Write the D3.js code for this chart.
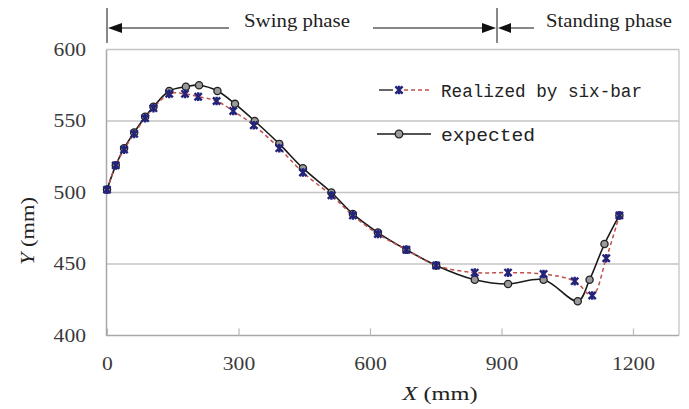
<!DOCTYPE html>
<html>
<head>
<meta charset="utf-8">
<script src="https://cdn.jsdelivr.net/npm/d3@7/dist/d3.min.js"></script>
<style>
  html, body { margin: 0; padding: 0; background: #fff; }
  svg { display: block; }
</style>
</head>
<body>
<svg id="chart" width="689" height="409"></svg>
<script>
// ---- data ----
const realizedX = [0, 20, 39, 62, 87, 106, 142, 178, 208, 250, 288, 335, 393, 447, 512, 561, 618, 683, 751, 839, 915, 996, 1067, 1107, 1139, 1169];
const realizedY = [502, 519, 530, 541, 552, 559, 569, 569, 567, 564, 557, 547, 531, 514, 498, 484, 471, 460, 449, 444, 444, 443, 438, 428, 454, 484];
const expectedX = [0, 20, 39, 62, 87, 106, 142, 180, 210, 252, 292, 337, 393, 447, 512, 561, 618, 683, 751, 839, 915, 996, 1074, 1101, 1135, 1169];
const expectedY = [502, 519, 531, 542, 553, 560, 571, 574, 575, 571, 562, 550, 534, 517, 500, 485, 472, 460, 449, 439, 436, 439, 424, 439, 464, 484];
const xTicks = [0, 300, 600, 900, 1200];
const yTicks = [400, 450, 500, 550, 600];
const seriesNames = ["Realized by six-bar", "expected"];
const phaseLabels = ["Swing phase", "Standing phase"];

const svg = d3.select("#chart");
const x = d3.scaleLinear().domain([0, 1305]).range([107, 679]);
const y = d3.scaleLinear().domain([400, 600]).range([335.5, 49.5]);

const serif = "'Liberation Serif', 'Times New Roman', serif";
const fmt = d3.format("d");

// grid lines
svg.append("g").selectAll("line").data(yTicks.filter(v => v > 400)).join("line")
  .attr("x1", x(0) - 1).attr("x2", x(1305))
  .attr("y1", d => y(d)).attr("y2", d => y(d))
  .attr("stroke", "#c4c4c4").attr("stroke-width", 1.3);

// plot border (right)
svg.append("line").attr("x1", x(1305)).attr("x2", x(1305)).attr("y1", y(600)).attr("y2", y(400))
  .attr("stroke", "#c4c4c4").attr("stroke-width", 1.3);

// x axis
const gx = svg.append("g").attr("transform", `translate(0,${y(400)})`)
  .call(d3.axisBottom(x).tickValues(xTicks).tickFormat(fmt).tickSize(-7).tickPadding(22).tickSizeOuter(0));
gx.select(".domain").attr("stroke", "#a8a8a8").attr("stroke-width", 1.5)
  .attr("d", `M${x(0) - 1},0H${x(1305)}`);
gx.selectAll(".tick line").attr("stroke", "#b8b8b8").attr("stroke-width", 1.2);
gx.selectAll(".tick text").attr("font-family", serif).attr("font-size", 18).attr("fill", "#3a3a3a")
  .attr("textLength", d => String(d).length * 10.8).attr("lengthAdjust", "spacingAndGlyphs");

// y axis
const gy = svg.append("g").attr("transform", `translate(${x(0) - 1},0)`)
  .call(d3.axisLeft(y).tickValues(yTicks).tickFormat(fmt).tickSize(0).tickPadding(20));
gy.select(".domain").attr("stroke", "#a8a8a8").attr("stroke-width", 1.5);
gy.selectAll(".tick text").attr("font-family", serif).attr("font-size", 18).attr("fill", "#3a3a3a")
  .attr("textLength", d => String(d).length * 10.8).attr("lengthAdjust", "spacingAndGlyphs");

// axis titles
const xt = svg.append("text").attr("x", 440).attr("y", 400).attr("text-anchor", "middle")
  .attr("font-family", serif).attr("font-size", 19).attr("fill", "#222")
  .attr("textLength", 75).attr("lengthAdjust", "spacingAndGlyphs");
xt.append("tspan").attr("font-style", "italic").text("X");
xt.append("tspan").text(" (mm)");

const yt = svg.append("text").attr("transform", "translate(34,231) rotate(-90)").attr("text-anchor", "middle")
  .attr("font-family", serif).attr("font-size", 19).attr("fill", "#222")
  .attr("textLength", 68).attr("lengthAdjust", "spacingAndGlyphs");
yt.append("tspan").attr("font-style", "italic").text("Y");
yt.append("tspan").text(" (mm)");

// phase annotation
const ann = svg.append("g").attr("stroke", "#111").attr("fill", "#111");
const ay = 28;
[x(0), 497].forEach(vx => ann.append("line").attr("x1", vx).attr("x2", vx).attr("y1", 8).attr("y2", 43).attr("stroke-width", 1));
ann.append("line").attr("x1", 120).attr("x2", 229).attr("y1", ay).attr("y2", ay).attr("stroke-width", 1);
ann.append("line").attr("x1", 373).attr("x2", 485).attr("y1", ay).attr("y2", ay).attr("stroke-width", 1);
ann.append("line").attr("x1", 510).attr("x2", 534).attr("y1", ay).attr("y2", ay).attr("stroke-width", 1);
ann.append("path").attr("d", `M108,${ay}L122,${ay - 5}L122,${ay + 5}Z`).attr("stroke", "none");
ann.append("path").attr("d", `M496,${ay}L482,${ay - 5}L482,${ay + 5}Z`).attr("stroke", "none");
ann.append("path").attr("d", `M498,${ay}L511,${ay - 5}L511,${ay + 5}Z`).attr("stroke", "none");
svg.append("text").attr("x", 244).attr("y", 27).attr("font-family", serif).attr("font-size", 18).attr("fill", "#222")
  .attr("textLength", 106).attr("lengthAdjust", "spacingAndGlyphs").text(phaseLabels[0]);
svg.append("text").attr("x", 546).attr("y", 27).attr("font-family", serif).attr("font-size", 18).attr("fill", "#222")
  .attr("textLength", 126).attr("lengthAdjust", "spacingAndGlyphs").text(phaseLabels[1]);

// lines
const realized = realizedX.map((v, i) => [v, realizedY[i]]);
const expected = expectedX.map((v, i) => [v, expectedY[i]]);
const line = d3.line().x(d => x(d[0])).y(d => y(d[1])).curve(d3.curveCatmullRom.alpha(0.5));

svg.append("path").datum(expected).attr("d", line)
  .attr("fill", "none").attr("stroke", "#1a1a1a").attr("stroke-width", 1.6);
svg.append("path").datum(realized).attr("d", line)
  .attr("fill", "none").attr("stroke", "#c0504d").attr("stroke-width", 1.5).attr("stroke-dasharray", "4,3");

// markers
const starPath = (cx, cy, r) =>
  `M${cx - r},${cy - r}L${cx + r},${cy + r}M${cx - r},${cy + r}L${cx + r},${cy - r}M${cx},${cy - r * 1.2}L${cx},${cy + r * 1.2}`;

svg.append("g").selectAll("circle").data(expected).join("circle")
  .attr("cx", d => x(d[0])).attr("cy", d => y(d[1])).attr("r", 3.6)
  .attr("fill", "#9a9a9a").attr("stroke", "#222").attr("stroke-width", 1.3);

svg.append("g").selectAll("path").data(realized).join("path")
  .attr("d", d => starPath(x(d[0]), y(d[1]), 3.6))
  .attr("fill", "none").attr("stroke", "#23237a").attr("stroke-width", 2.4);

// legend
const mono = "'Liberation Mono', 'DejaVu Sans Mono', monospace";
const lg = svg.append("g");
lg.append("line").attr("x1", 379).attr("x2", 393).attr("y1", 90).attr("y2", 90).attr("stroke", "#333").attr("stroke-width", 1.5);
lg.append("line").attr("x1", 404).attr("x2", 431).attr("y1", 90).attr("y2", 90).attr("stroke", "#c0504d").attr("stroke-width", 1.5).attr("stroke-dasharray", "4,3");
lg.append("path").attr("d", starPath(399, 90, 3.6)).attr("fill", "none").attr("stroke", "#23237a").attr("stroke-width", 2.4);
lg.append("text").attr("x", 441).attr("y", 97).attr("font-family", mono).attr("font-size", 18).attr("fill", "#222")
  .attr("textLength", 201).attr("lengthAdjust", "spacingAndGlyphs").text(seriesNames[0]);

lg.append("line").attr("x1", 377).attr("x2", 431).attr("y1", 134).attr("y2", 134).attr("stroke", "#1a1a1a").attr("stroke-width", 1.6);
lg.append("circle").attr("cx", 399).attr("cy", 134).attr("r", 3.8).attr("fill", "#9a9a9a").attr("stroke", "#222").attr("stroke-width", 1.3);
lg.append("text").attr("x", 441).attr("y", 141).attr("font-family", mono).attr("font-size", 18).attr("fill", "#222")
  .attr("textLength", 94).attr("lengthAdjust", "spacingAndGlyphs").text(seriesNames[1]);
</script>
</body>
</html>
